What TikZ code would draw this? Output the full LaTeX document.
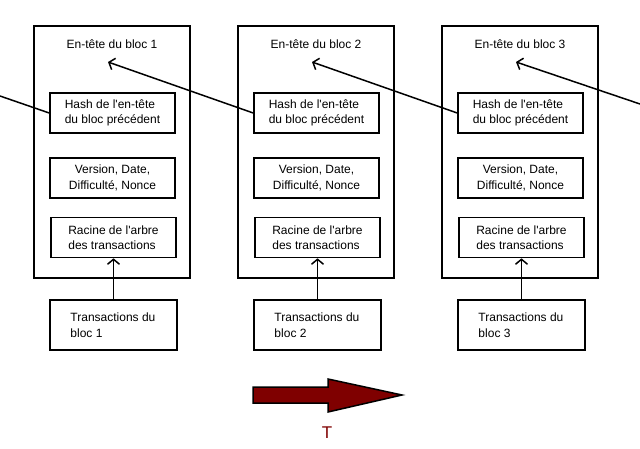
\documentclass[tikz,border=0pt]{standalone}
\usepackage{fontspec}
\setmainfont{Liberation Sans}
\usetikzlibrary{arrows.meta}
\definecolor{darkred}{HTML}{7F0000}
\newcommand{\q}{\textquotesingle}
\begin{document}
\begin{tikzpicture}[x=1pt,y=-1pt,
  txt/.style={font=\fontsize{12}{15.5}\selectfont},
  outerbox/.style={draw,line width=1.6pt,minimum width=156pt,minimum height=252pt,inner sep=0pt},
  innerbox/.style={draw,line width=1.6pt,minimum width=125pt,minimum height=40pt,inner sep=0pt,txt},
  txbox/.style={draw,line width=1.6pt,minimum width=127pt,minimum height=50pt,inner sep=0pt,txt},
  link/.style={line width=1.5pt,-{Straight Barb[length=5pt,width=12pt,line width=1.5pt]}},
  plain/.style={line width=1.5pt}]
\useasboundingbox (0,0) rectangle (640,449);
\foreach \i in {1,2,3}{
  \pgfmathsetmacro{\dx}{204*(\i-1)}
  \node[outerbox] (blk\i) at (112+\dx,152) {};
  \node[txt] (ttl\i) at (112+\dx,44) {En-tête du bloc \i};
  \node[innerbox,align=left] (hash\i) at (112.5+\dx,113) {Hash de l\q en-tête\\du bloc précédent};
  \node[innerbox,align=center] (ver\i) at (112.5+\dx,178) {Version, Date,\\Difficulté, Nonce};
  \node[innerbox,align=left] (rac\i) at (113.5+\dx,237.5) {Racine de l\q arbre\\des transactions};
  \node[txbox,align=left] (tx\i) at (113.5+\dx,325) {Transactions du\\bloc \i\hspace*{4.5em}};
  \coordinate (tip\i) at (108+\dx,62);
  \draw[link] (tx\i.north) -- (rac\i.south);
}
\coordinate (leftend) at (0,96);
\coordinate (rightend) at (640,104);
\draw[plain] (leftend) -- (hash1.west);
\draw[link] (hash2.west) -- (tip1);
\draw[link] (hash3.west) -- (tip2);
\draw[link] (rightend) -- (tip3);
\draw[line width=1.5pt,fill=darkred,line join=miter]
  (253,387) -- (328,387) -- (328,379) -- (402,395) -- (328,412) -- (328,403) -- (253,403) -- cycle;
\node[text=darkred,font=\fontsize{17}{20}\selectfont] (tlabel) at (327,433) {T};
\end{tikzpicture}
\end{document}
